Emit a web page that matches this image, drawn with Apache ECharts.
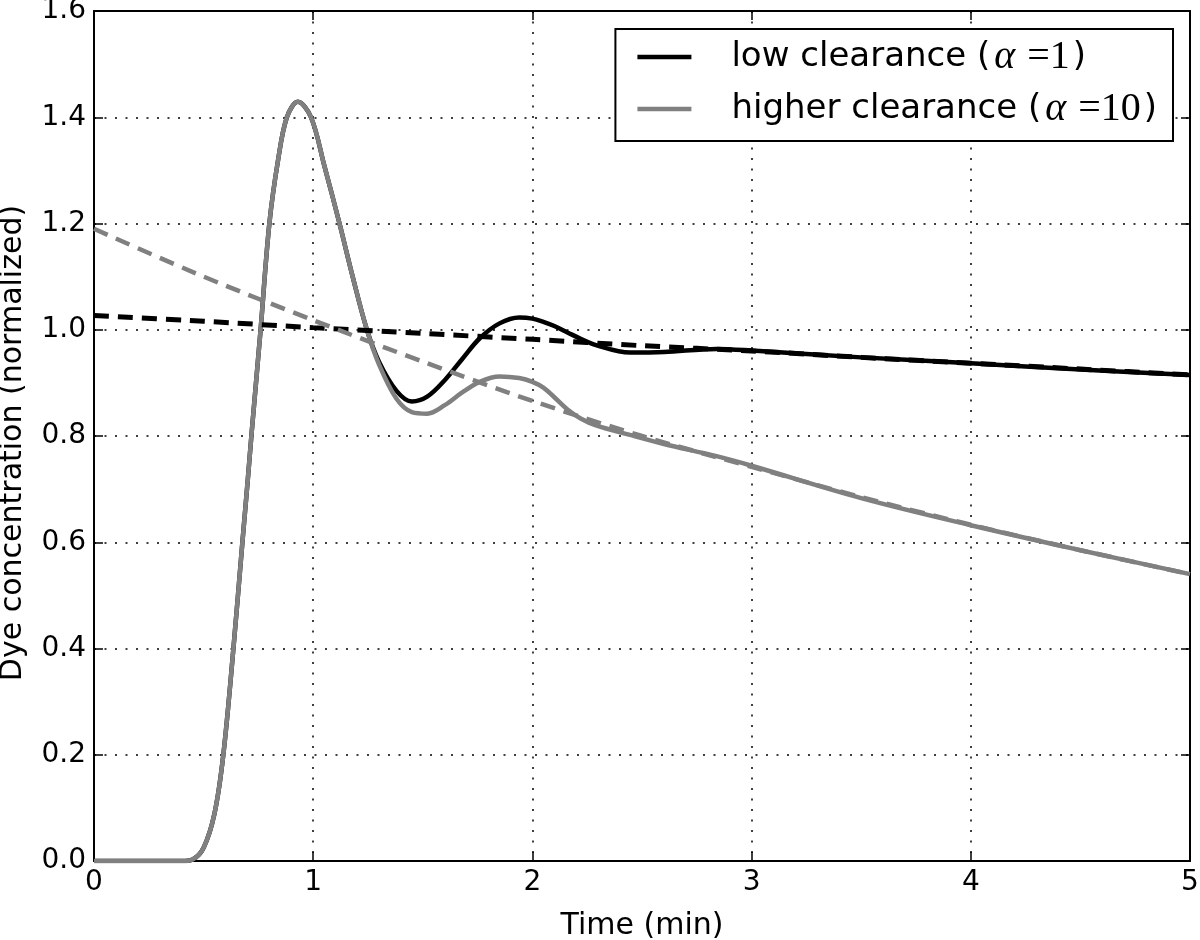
<!DOCTYPE html>
<html>
<head>
<meta charset="utf-8">
<script src="https://cdn.jsdelivr.net/npm/echarts@6/dist/echarts.min.js"></script>
<style>
  html, body { margin: 0; padding: 0; background: #fff; }
  #chart { width: 1200px; height: 940px; }
</style>
</head>
<body>
<div id="chart"></div>
<script>
// ---- data ----
var tCurve = [0, 0.2, 0.4, 0.45, 0.5, 0.55, 0.59, 0.636, 0.677, 0.70, 0.72, 0.76, 0.80, 0.84, 0.88, 0.93, 0.99, 1.05, 1.12, 1.18, 1.245, 1.30, 1.38, 1.45, 1.52, 1.60, 1.68, 1.76, 1.85, 1.94, 2.0, 2.05, 2.10, 2.16, 2.22, 2.29, 2.445, 2.6, 2.84, 3.0, 3.5, 4.0, 4.5, 5.0];
var lowCurve = [0, 0, 0, 0.003, 0.025, 0.09, 0.2, 0.4, 0.6, 0.71, 0.81, 1.0, 1.2, 1.32, 1.40, 1.429, 1.40, 1.31, 1.20, 1.10, 1.00, 0.94, 0.885, 0.865, 0.874, 0.905, 0.945, 0.984, 1.012, 1.023, 1.021, 1.015, 1.007, 0.995, 0.983, 0.971, 0.957, 0.958, 0.964, 0.961, 0.948, 0.937, 0.925, 0.915];
var highCurve = [0, 0, 0, 0.003, 0.025, 0.09, 0.2, 0.4, 0.6, 0.71, 0.81, 1.0, 1.2, 1.32, 1.40, 1.429, 1.40, 1.31, 1.20, 1.10, 1.00, 0.935, 0.87, 0.845, 0.842, 0.858, 0.882, 0.902, 0.912, 0.909, 0.902, 0.891, 0.873, 0.850, 0.833, 0.820, 0.802, 0.785, 0.762, 0.744, 0.683, 0.632, 0.585, 0.540];
var tFit = [0, 0.5, 1, 1.5, 2, 2.5, 3, 3.5, 4, 4.5, 5];
var lowFit = [1.027, 1.016, 1.004, 0.993, 0.982, 0.970, 0.960, 0.948, 0.937, 0.926, 0.915];
var highFit = [1.19, 1.10, 1.018, 0.94, 0.866, 0.80, 0.742, 0.685, 0.633, 0.585, 0.540];
var xTicks = [0, 1, 2, 3, 4, 5];
var yTicks = [0.0, 0.2, 0.4, 0.6, 0.8, 1.0, 1.2, 1.4, 1.6];
var seriesNames = ['low clearance', 'higher clearance'];
var alphaValues = ['1', '10'];

function pairs(xs, ys) { return xs.map(function (x, i) { return [x, ys[i]]; }); }

var FONT = 'DejaVu Sans';
var MATH = 'Liberation Serif';
var gridLine = { show: true, lineStyle: { color: '#000', width: 1.5, type: [2, 8.5] } };
var axLine = { show: true, onZero: false, lineStyle: { color: '#000', width: 2 } };
var tick = { show: true, inside: true, length: 9, lineStyle: { color: '#000', width: 1.5 } };

var chart = echarts.init(document.getElementById('chart'), null, { renderer: 'canvas' });
chart.setOption({
  animation: false,
  backgroundColor: '#fff',
  grid: { left: 94, right: 10, top: 11, bottom: 79, containLabel: false, outerBoundsMode: 'none' },
  xAxis: [{
    type: 'value', min: xTicks[0], max: xTicks[xTicks.length - 1], interval: 1,
    position: 'bottom',
    name: 'Time (min)', nameLocation: 'middle', nameGap: 50,
    nameTextStyle: { fontFamily: FONT, fontSize: 30, color: '#000' },
    axisLine: axLine, axisTick: tick, splitLine: gridLine,
    axisLabel: { fontFamily: FONT, fontSize: 28, color: '#000', margin: 8 }
  }, {
    type: 'value', min: xTicks[0], max: xTicks[xTicks.length - 1], interval: 1,
    position: 'top', axisLine: axLine, axisTick: tick, splitLine: { show: false },
    axisLabel: { show: false }
  }],
  yAxis: [{
    type: 'value', min: yTicks[0], max: yTicks[yTicks.length - 1], interval: 0.2,
    position: 'left',
    name: 'Dye concentration (normalized)', nameLocation: 'middle', nameGap: 66,
    nameTextStyle: { fontFamily: FONT, fontSize: 30, color: '#000', padding: [0, 14, 0, 0] },
    axisLine: axLine, axisTick: tick, splitLine: gridLine,
    axisLabel: { fontFamily: FONT, fontSize: 28, color: '#000', margin: 8,
      formatter: function (v) { return v.toFixed(1); } }
  }, {
    type: 'value', min: yTicks[0], max: yTicks[yTicks.length - 1], interval: 0.2,
    position: 'right', axisLine: axLine, axisTick: tick, splitLine: { show: false },
    axisLabel: { show: false }
  }],
  legend: {
    data: seriesNames,
    orient: 'vertical', right: 27, top: 29,
    borderColor: '#000', borderWidth: 2, borderRadius: 0,
    backgroundColor: '#fff',
    padding: [8, 16, 12, 22],
    itemGap: 12, itemWidth: 54, itemHeight: 4.5, icon: 'rect',
    selectedMode: false,
    formatter: function (name) {
      var a = alphaValues[seriesNames.indexOf(name)];
      return '{sp|}{t|' + name + ' (}{s1|}{g|\u03b1}{s2|}{r|=' + a + '}{s3|}{t|)}';
    },
    textStyle: {
      color: '#000', fontSize: 34, lineHeight: 40, fontFamily: FONT,
      rich: {
        sp: { width: 35, lineHeight: 40 },
        s1: { width: 4, lineHeight: 40 },
        s2: { width: 12, lineHeight: 40 },
        s3: { width: 3, lineHeight: 40 },
        t: { fontFamily: FONT, fontSize: 34, lineHeight: 40, color: '#000' },
        g: { fontFamily: MATH, fontStyle: 'italic', fontSize: 40, lineHeight: 40, color: '#000' },
        r: { fontFamily: MATH, fontSize: 40, lineHeight: 40, color: '#000' }
      }
    }
  },
  series: [{
    name: seriesNames[0], type: 'line', data: pairs(tCurve, lowCurve),
    showSymbol: false, smooth: 0.35, z: 2,
    lineStyle: { color: '#000', width: 4.5 }, itemStyle: { color: '#000' }
  }, {
    name: seriesNames[1], type: 'line', data: pairs(tCurve, highCurve),
    showSymbol: false, smooth: 0.35, z: 3,
    lineStyle: { color: '#808080', width: 4.5 }, itemStyle: { color: '#808080' }
  }, {
    name: 'low fit', type: 'line', data: pairs(tFit, lowFit),
    showSymbol: false, smooth: 0.3, z: 4,
    lineStyle: { color: '#000', width: 5, type: [15, 9] }
  }, {
    name: 'high fit', type: 'line', data: pairs(tFit, highFit),
    showSymbol: false, smooth: 0.3, z: 5,
    lineStyle: { color: '#808080', width: 4.5, type: [15, 9] }
  }]
});
</script>
</body>
</html>
